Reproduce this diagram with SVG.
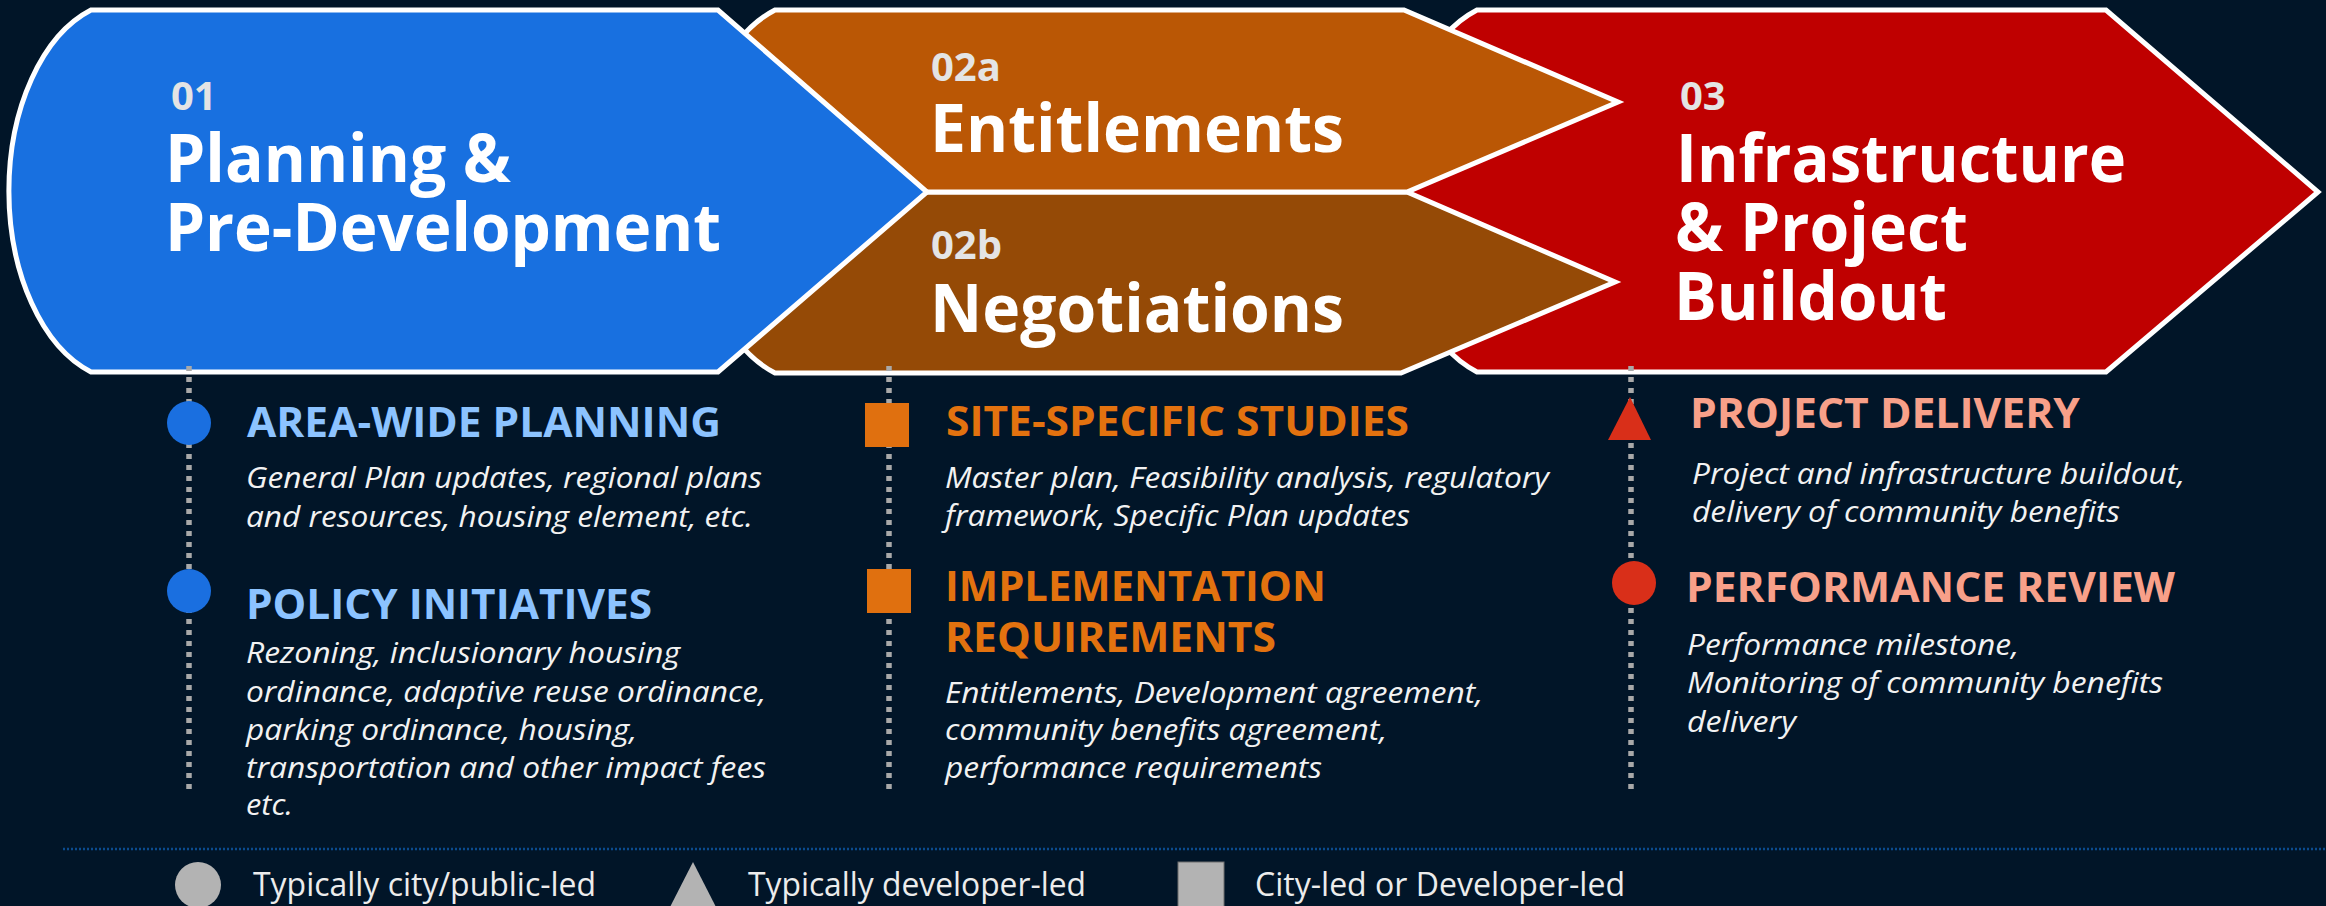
<svg xmlns="http://www.w3.org/2000/svg" width="2326" height="906" viewBox="0 0 2326 906">
  <defs>
    <style>
      .stage { stroke: #ffffff; stroke-width: 5; stroke-linejoin: miter; }
      .num { font-family: "Open Sans", "Liberation Sans", sans-serif; font-weight: 700; font-size: 40px; fill: #e4e4e4; }
      .title { font-family: "Open Sans", "Liberation Sans", sans-serif; font-weight: 700; font-size: 66px; fill: #ffffff; }
      .head { font-family: "Open Sans", "Liberation Sans", sans-serif; font-weight: 700; font-size: 42px; }
      .desc { font-family: "Open Sans", "Liberation Sans", sans-serif; font-style: italic; font-size: 30px; fill: #f2f2f2; }
      .legend-text { font-family: "Open Sans", "Liberation Sans", sans-serif; font-size: 32px; fill: #ececec; }
      .timeline { stroke: #a9a9a9; stroke-width: 5.5; stroke-dasharray: 5 6; fill: none; }
      .h-blue { fill: #8cc3ff; }
      .h-orange { fill: #e3720f; }
      .h-salmon { fill: #f8a089; }
      .m-blue { fill: #1a6fe0; }
      .m-orange { fill: #e0700f; }
      .m-red { fill: #d92f19; }
      .m-legend { fill: #b3b3b3; }
    </style>
  </defs>

  <!-- background -->
  <rect x="0" y="0" width="2326" height="906" fill="#011528"/>

  <!-- phase chevrons (back to front) -->
  <g id="stage-03">
    <path class="stage" fill="#bf0000" d="M1477,10 L2106,10 L2318,192 L2106,372 L1477,372 A118 190 0 0 1 1477,10 Z"/>
    <text class="num" x="1680" y="110">03</text>
    <text class="title" x="1676" y="182" textLength="450" lengthAdjust="spacingAndGlyphs">Infrastructure</text>
    <text class="title" x="1675" y="251" textLength="293" lengthAdjust="spacingAndGlyphs">&amp; Project</text>
    <text class="title" x="1674" y="320" textLength="273" lengthAdjust="spacingAndGlyphs">Buildout</text>
  </g>

  <g id="stage-02b">
    <path class="stage" fill="#954a06" d="M693,192 L1407,192 L1615,282 L1401,373 L775,373 A118 190 0 0 1 693,192 Z"/>
    <text class="num" x="931" y="259">02b</text>
    <text class="title" x="930" y="332" font-size="64" textLength="414" lengthAdjust="spacingAndGlyphs">Negotiations</text>
  </g>

  <g id="stage-02a">
    <path class="stage" fill="#ba5705" d="M775,10 L1404,10 L1618,102 L1407,192 L693,192 A118 190 0 0 1 775,10 Z"/>
    <text class="num" x="931" y="81">02a</text>
    <text class="title" x="930" y="152" font-size="64" textLength="414" lengthAdjust="spacingAndGlyphs">Entitlements</text>
  </g>

  <g id="stage-01">
    <path class="stage" fill="#1870e0" d="M91,10 L718,10 L927,192 L718,372 L91,372 A118 190 0 0 1 91,10 Z"/>
    <text class="num" x="171" y="110">01</text>
    <text class="title" x="165" y="182" textLength="346" lengthAdjust="spacingAndGlyphs">Planning &amp;</text>
    <text class="title" x="165" y="251" textLength="556" lengthAdjust="spacingAndGlyphs">Pre-Development</text>
  </g>

  <!-- dotted timelines under each phase -->
  <g id="connectors">
    <line class="timeline" x1="189" y1="366" x2="189" y2="790"/>
    <line class="timeline" x1="889" y1="366" x2="889" y2="790"/>
    <line class="timeline" x1="1631" y1="366" x2="1631" y2="790"/>
    <line x1="63" y1="849" x2="2326" y2="849" stroke="#0b4b8e" stroke-width="2.5" stroke-dasharray="2 2"/>
  </g>

  <!-- column 1: planning items -->
  <g id="area-wide-planning">
    <circle class="m-blue" cx="189" cy="423" r="22"/>
    <text class="head h-blue" x="247" y="437" textLength="474" lengthAdjust="spacingAndGlyphs">AREA-WIDE PLANNING</text>
    <text class="desc" x="246" y="488" textLength="516" lengthAdjust="spacingAndGlyphs">General Plan updates, regional plans</text>
    <text class="desc" x="246" y="527" textLength="507" lengthAdjust="spacingAndGlyphs">and resources, housing element, etc.</text>
  </g>

  <g id="policy-initiatives">
    <circle class="m-blue" cx="189" cy="591" r="22"/>
    <text class="head h-blue" x="246" y="619" textLength="406" lengthAdjust="spacingAndGlyphs">POLICY INITIATIVES</text>
    <text class="desc" x="246" y="663" textLength="434" lengthAdjust="spacingAndGlyphs">Rezoning, inclusionary housing</text>
    <text class="desc" x="246" y="702" textLength="520" lengthAdjust="spacingAndGlyphs">ordinance, adaptive reuse ordinance,</text>
    <text class="desc" x="246" y="740" textLength="391" lengthAdjust="spacingAndGlyphs">parking ordinance, housing,</text>
    <text class="desc" x="246" y="778" textLength="520" lengthAdjust="spacingAndGlyphs">transportation and other impact fees</text>
    <text class="desc" x="246" y="815" textLength="47" lengthAdjust="spacingAndGlyphs">etc.</text>
  </g>

  <!-- column 2: entitlement items -->
  <g id="site-specific-studies">
    <rect class="m-orange" x="865" y="403" width="44" height="44"/>
    <text class="head h-orange" x="946" y="436" textLength="463" lengthAdjust="spacingAndGlyphs">SITE-SPECIFIC STUDIES</text>
    <text class="desc" x="945" y="488" textLength="604" lengthAdjust="spacingAndGlyphs">Master plan, Feasibility analysis, regulatory</text>
    <text class="desc" x="945" y="526" textLength="465" lengthAdjust="spacingAndGlyphs">framework, Specific Plan updates</text>
  </g>

  <g id="implementation-requirements">
    <rect class="m-orange" x="867" y="569" width="44" height="44"/>
    <text class="head h-orange" x="945" y="601" textLength="381" lengthAdjust="spacingAndGlyphs">IMPLEMENTATION</text>
    <text class="head h-orange" x="945" y="652" textLength="331" lengthAdjust="spacingAndGlyphs">REQUIREMENTS</text>
    <text class="desc" x="945" y="703" textLength="538" lengthAdjust="spacingAndGlyphs">Entitlements, Development agreement,</text>
    <text class="desc" x="945" y="740" textLength="442" lengthAdjust="spacingAndGlyphs">community benefits agreement,</text>
    <text class="desc" x="945" y="778" textLength="377" lengthAdjust="spacingAndGlyphs">performance requirements</text>
  </g>

  <!-- column 3: buildout items -->
  <g id="project-delivery">
    <polygon class="m-red" points="1630,397 1651,440 1608,440"/>
    <text class="head h-salmon" x="1690" y="428" textLength="390" lengthAdjust="spacingAndGlyphs">PROJECT DELIVERY</text>
    <text class="desc" x="1692" y="484" textLength="493" lengthAdjust="spacingAndGlyphs">Project and infrastructure buildout,</text>
    <text class="desc" x="1692" y="522" textLength="428" lengthAdjust="spacingAndGlyphs">delivery of community benefits</text>
  </g>

  <g id="performance-review">
    <circle class="m-red" cx="1634" cy="583" r="22"/>
    <text class="head h-salmon" x="1686" y="602" textLength="489" lengthAdjust="spacingAndGlyphs">PERFORMANCE REVIEW</text>
    <text class="desc" x="1687" y="655" textLength="332" lengthAdjust="spacingAndGlyphs">Performance milestone,</text>
    <text class="desc" x="1687" y="693" textLength="476" lengthAdjust="spacingAndGlyphs">Monitoring of community benefits</text>
    <text class="desc" x="1687" y="732" textLength="109" lengthAdjust="spacingAndGlyphs">delivery</text>
  </g>

  <!-- legend -->
  <g id="legend-public">
    <circle class="m-legend" cx="198" cy="885" r="23"/>
    <text class="legend-text" x="253" y="896" textLength="343" lengthAdjust="spacingAndGlyphs">Typically city/public-led</text>
  </g>
  <g id="legend-developer">
    <polygon class="m-legend" points="693,862 717,909 669,909"/>
    <text class="legend-text" x="748" y="896" textLength="338" lengthAdjust="spacingAndGlyphs">Typically developer-led</text>
  </g>
  <g id="legend-either">
    <rect class="m-legend" x="1178" y="862" width="46" height="50" stroke="#6f6f6f" stroke-width="1"/>
    <text class="legend-text" x="1255" y="896" textLength="370" lengthAdjust="spacingAndGlyphs">City-led or Developer-led</text>
  </g>
</svg>
